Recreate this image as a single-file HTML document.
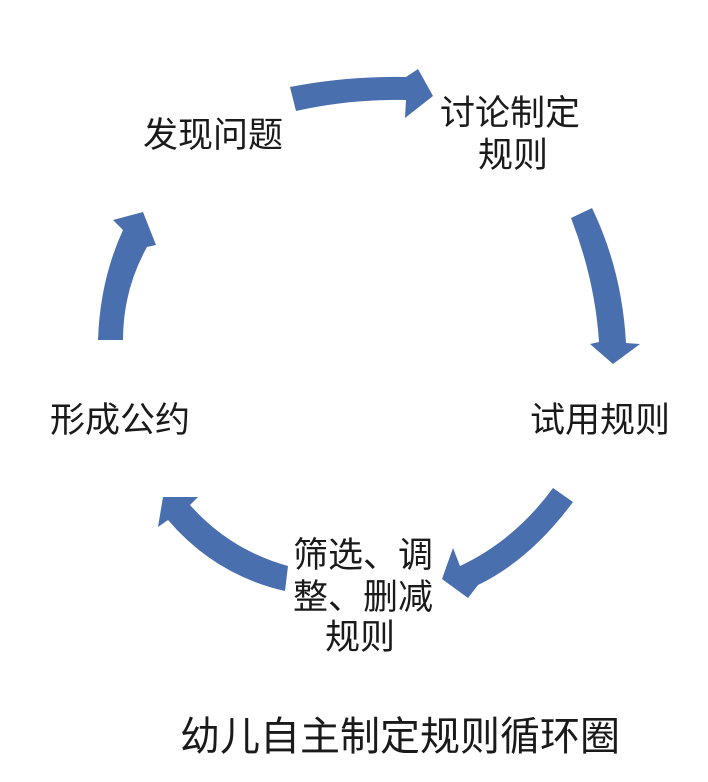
<!DOCTYPE html>
<html><head><meta charset="utf-8"><style>
html,body{margin:0;padding:0;background:#fff;}
svg{display:block;}
text{font-family:"Liberation Sans","Noto Sans CJK SC",sans-serif;fill:#1a1a1a;}
</style></head><body>
<svg width="708" height="782" viewBox="0 0 708 782" xmlns="http://www.w3.org/2000/svg">
<g fill="#4a6fae">
<path d="M290,87 Q345,76 406,77 L418,69 L433,96 L405,118 L406,100 Q350,99 296,111 Z"/>
<path d="M571,218 L592,208 Q622,270 626,343 L640,344 L613,364 L590,344 L599,342 Q595,280 571,218 Z"/>
<path d="M553,488 L573,502 Q530,560 478,585 L468,598 L442,579 L453,548 L460,566 Q515,540 553,488 Z"/>
<path d="M288,566 L285,591 Q215,575 168,520 L158,527 L163,497 L198,497 L190,505 Q230,550 288,566 Z"/>
<path d="M98,340 L123,340 Q123,290 147,247 L156,245 L143,212 L113,220 L123,230 Q100,280 98,340 Z"/>
</g>
<g font-size="35">
<text x="143" y="147">发现问题</text>
<text x="440" y="125">讨论制定</text>
<text x="478" y="167">规则</text>
<text x="530" y="432">试用规则</text>
<text x="50" y="432">形成公约</text>
<text x="293" y="567">筛选、调</text>
<text x="293" y="609">整、删减</text>
<text x="325" y="649">规则</text>
</g>
<text x="180" y="750" font-size="40">幼儿自主制定规则循环圈</text>
</svg>
</body></html>
